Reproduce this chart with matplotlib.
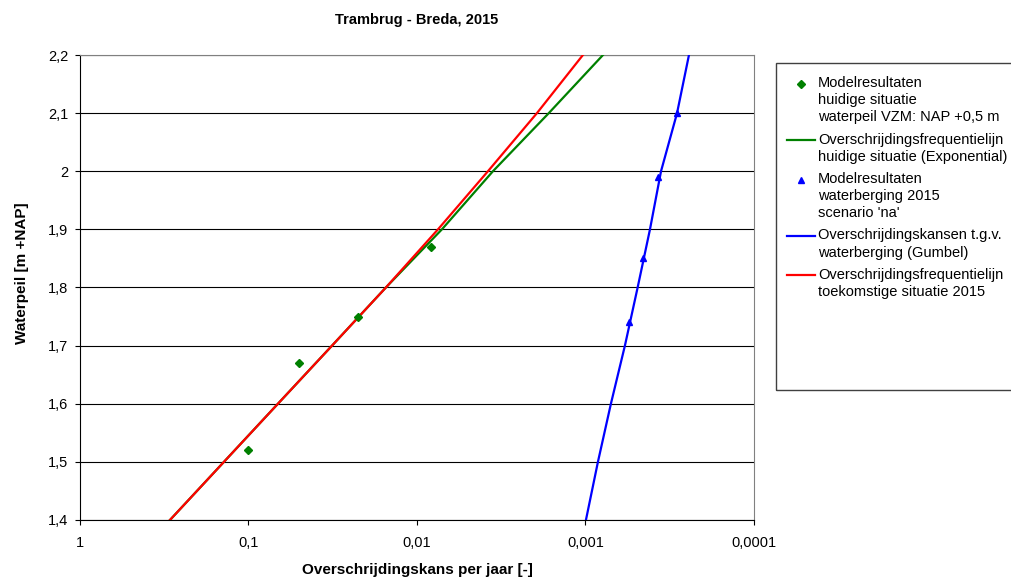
import matplotlib
matplotlib.use("Agg")
import numpy as np
import matplotlib.pyplot as plt
from matplotlib.ticker import FixedLocator, FixedFormatter
from matplotlib.legend_handler import HandlerLine2D
from matplotlib.patches import Rectangle

plt.rcParams['font.family'] = ['Liberation Sans', 'DejaVu Sans']

# Model results, current situation (green diamonds)
huidig_kans = [0.1, 0.05, 0.0224, 0.0083]
huidig_peil = [1.52, 1.67, 1.75, 1.87]

# Exceedance frequency line, current situation (exponential)
expo_peil = [1.4, 1.5, 1.6, 1.7, 1.8, 1.9, 2.0, 2.1, 2.2]
expo_kans = [0.292, 0.1397, 0.0668, 0.0319, 0.01528, 0.00711, 0.00354, 0.00165, 0.000787]

# Model results, water storage 2015 (blue triangles)
berging_kans = [0.000552, 0.000457, 0.000372, 0.000286]
berging_peil = [1.74, 1.85, 1.99, 2.10]

# Exceedance probabilities due to water storage (Gumbel)
gumbel_peil = [1.4, 1.5, 1.6, 1.7, 1.8, 1.9, 2.0, 2.1, 2.2]
gumbel_kans = [0.000993, 0.000843, 0.000706, 0.000583, 0.00049, 0.000414, 0.000356, 0.000286, 0.000243]

# Future situation 2015
toekomst_peil = [1.4, 1.5, 1.6, 1.7, 1.8, 1.9, 2.0, 2.1, 2.2]
toekomst_kans = [0.292, 0.1397, 0.0668, 0.0319, 0.01528, 0.0075, 0.00379, 0.00194, 0.001035]

x_ticks = [1, 0.1, 0.01, 0.001, 0.0001]
x_labels = ['1', '0,1', '0,01', '0,001', '0,0001']
y_ticks = [1.4, 1.5, 1.6, 1.7, 1.8, 1.9, 2.0, 2.1, 2.2]
y_labels = ['1,4', '1,5', '1,6', '1,7', '1,8', '1,9', '2', '2,1', '2,2']

labels = [
    'Modelresultaten\nhuidige situatie\nwaterpeil VZM: NAP +0,5 m',
    'Overschrijdingsfrequentielijn\nhuidige situatie (Exponential)',
    "Modelresultaten\nwaterberging 2015\nscenario 'na'",
    'Overschrijdingskansen t.g.v.\nwaterberging (Gumbel)',
    'Overschrijdingsfrequentielijn\ntoekomstige situatie 2015',
]

LEG_FS = 10.5
LINE_STEP = 12.0  # points between lines of a legend label


class TopHandler(HandlerLine2D):
    # put the legend symbol next to the first line of a multi-line label
    def __init__(self, nlines, **kw):
        super().__init__(**kw)
        self.shift = (nlines - 1) / 2 * LINE_STEP

    def create_artists(self, legend, orig_handle, xdescent, ydescent,
                       width, height, fontsize, trans):
        arts = super().create_artists(legend, orig_handle, xdescent, ydescent,
                                      width, height, fontsize, trans)
        for a in arts:
            a.set_ydata(np.asarray(a.get_ydata()) + self.shift)
        return arts


fig = plt.figure(figsize=(10.12, 5.79), dpi=100)
ax = fig.add_axes([0.079, 0.102, 0.666, 0.803])

h1, = ax.plot(huidig_kans, huidig_peil, 'D', color='#008000', markersize=4, linestyle='none', zorder=5)
h2, = ax.plot(expo_kans, expo_peil, color='#008000', linewidth=1.6, zorder=3)
h3, = ax.plot(berging_kans, berging_peil, '^', color='#0000FF', markersize=5, linestyle='none', zorder=5)
h4, = ax.plot(gumbel_kans, gumbel_peil, color='#0000FF', linewidth=1.6, zorder=3)
h5, = ax.plot(toekomst_kans, toekomst_peil, color='#FF0000', linewidth=1.6, zorder=4)

ax.set_xscale('log')
ax.set_xlim(1, 0.0001)
ax.set_ylim(1.4, 2.2)
ax.xaxis.set_major_locator(FixedLocator(x_ticks))
ax.xaxis.set_major_formatter(FixedFormatter(x_labels))
ax.xaxis.set_minor_locator(FixedLocator([]))
ax.yaxis.set_major_locator(FixedLocator(y_ticks))
ax.yaxis.set_major_formatter(FixedFormatter(y_labels))
ax.tick_params(axis='both', direction='out', length=3.6, labelsize=10.5, colors='black')
ax.tick_params(axis='x', pad=8)
ax.tick_params(axis='y', pad=5)
ax.yaxis.grid(True, color='black', linewidth=0.8)
ax.set_axisbelow(True)
for side in ['top', 'right']:
    ax.spines[side].set_color('#808080')

ax.set_title('Trambrug - Breda, 2015', fontsize=10.5, fontweight='bold', pad=22.5)
ax.set_xlabel('Overschrijdingskans per jaar [-]', fontsize=11, fontweight='bold', labelpad=9)
ax.set_ylabel('Waterpeil [m +NAP]', fontsize=11, fontweight='bold')
ax.yaxis.set_label_coords(-0.075, 0.53)

handles = [h1, h2, h3, h4, h5]
hmap = {h: TopHandler(lab.count('\n') + 1) for h, lab in zip(handles, labels)}
leg = fig.legend(handles, labels, loc='upper left', handler_map=hmap,
                 bbox_to_anchor=(0.7777, 0.8685), fontsize=LEG_FS, frameon=False,
                 labelspacing=0.57, handlelength=1.92, handletextpad=0.2,
                 borderpad=0, borderaxespad=0)
for t in leg.get_texts():
    t.set_linespacing(1.28)

# legend frame, running off the right edge as in the original
fig.patches.append(Rectangle((0.7668, 0.3264), 0.26, 0.5643, transform=fig.transFigure,
                             fill=False, edgecolor='#404040', linewidth=1.0))

fig.savefig('out.png', dpi=100)
